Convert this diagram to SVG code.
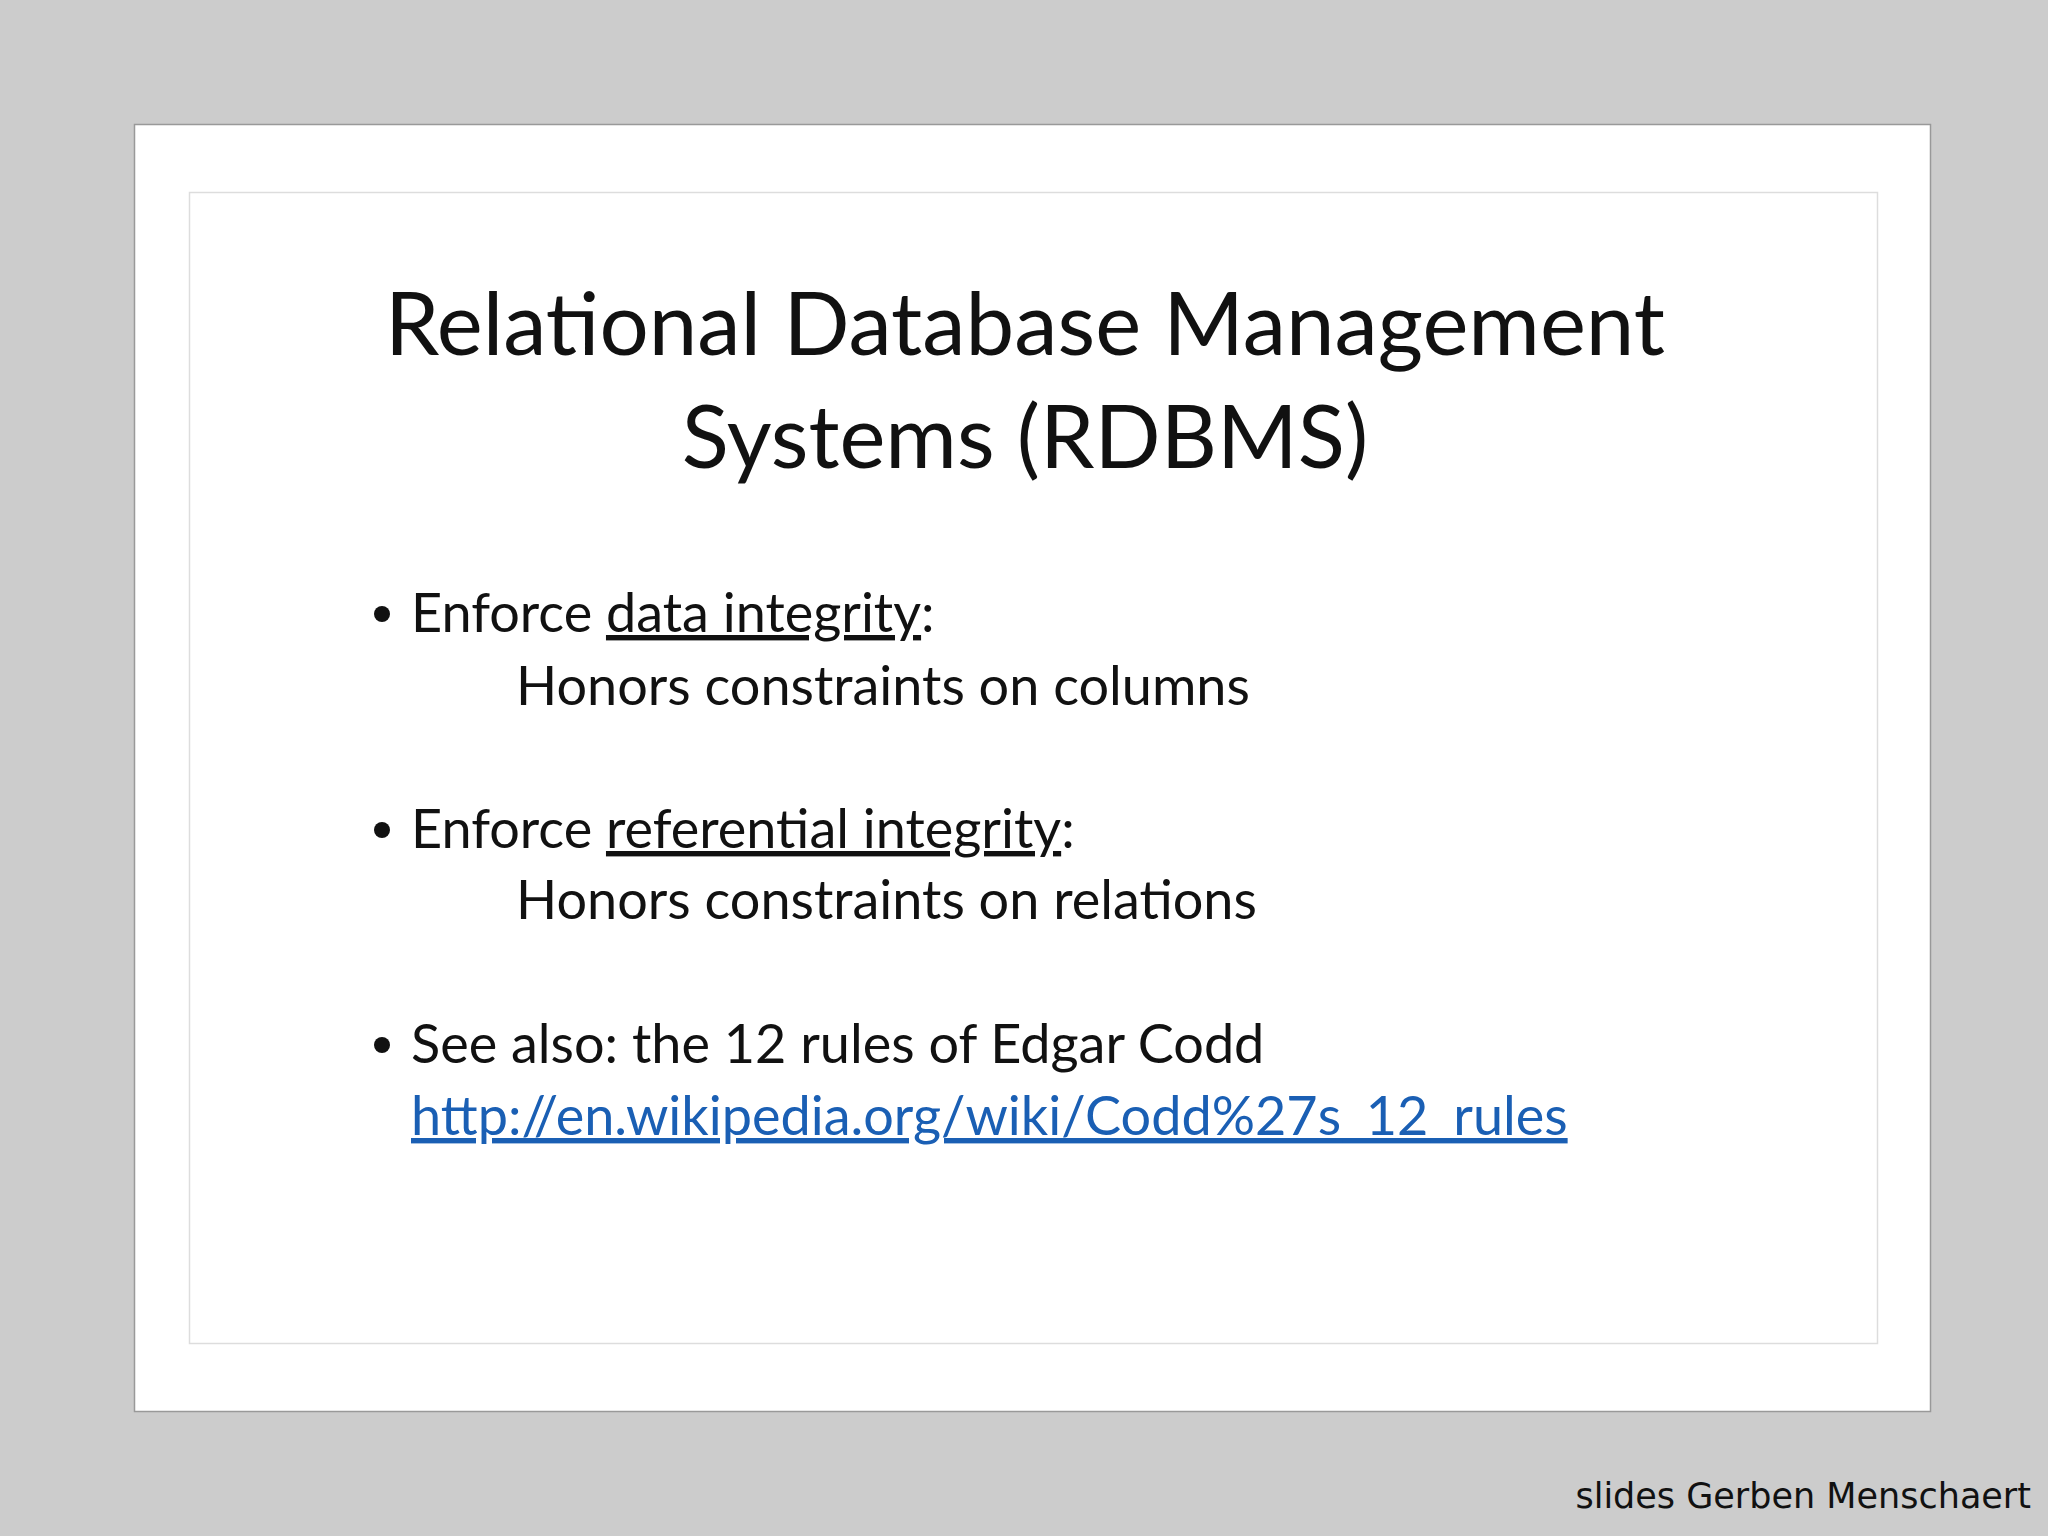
<svg xmlns="http://www.w3.org/2000/svg" width="2048" height="1536" viewBox="0 0 2048 1536">
<style>
.t{font-family:Lato,"Noto Sans",sans-serif;fill:#111}
.b{font-size:54px}
.u{text-decoration:underline}
</style>
<rect width="2048" height="1536" fill="#cccccc"/>
<g id="slide">
<rect x="134.5" y="124.5" width="1796" height="1287" fill="#fff" stroke="#999" stroke-width="1.5"/>
<rect x="189.5" y="192.5" width="1688" height="1151" fill="#fff" stroke="#ddd" stroke-width="1.5"/>
</g>
<g id="title" class="t" text-anchor="middle" font-size="87">
<text x="1025" y="355">Relational Database Management</text>
<text x="1025" y="468">Systems (RDBMS)</text>
</g>
<g id="bullets" class="t b">
<circle cx="382" cy="614" r="8" fill="#111"/>
<text x="411" y="632">Enforce <tspan class="u">data integrity</tspan>:</text>
<text x="516" y="705">Honors constraints on columns</text>
<circle cx="382" cy="830" r="8" fill="#111"/>
<text x="411" y="848">Enforce <tspan class="u">referential integrity</tspan>:</text>
<text x="516" y="919">Honors constraints on relations</text>
<circle cx="382" cy="1045" r="8" fill="#111"/>
<text x="411" y="1063">See also: the 12 rules of Edgar Codd</text>
<text x="411" y="1135" class="u" style="fill:#1a5fb4">http://en.wikipedia.org/wiki/Codd%27s_12_rules</text>
</g>
<text id="footer" x="2031" y="1508" text-anchor="end" font-family="DejaVu Sans,sans-serif" font-size="35" fill="#111">slides Gerben Menschaert</text>
</svg>
